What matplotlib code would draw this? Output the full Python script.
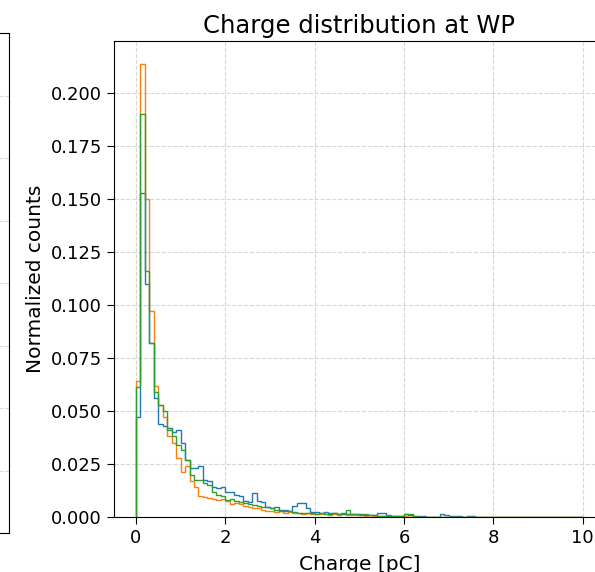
import numpy as np
import matplotlib
matplotlib.use("Agg")
import matplotlib.pyplot as plt

# normalized counts per 0.1 pC bin, 0 to 10 pC
edges = np.linspace(0, 10, 101)
centers = 0.5 * (edges[:-1] + edges[1:])

counts_blue = [
    0.047, 0.153, 0.110, 0.082, 0.056, 0.044, 0.043, 0.042, 0.040, 0.041,
    0.035, 0.027, 0.023, 0.023, 0.024, 0.0175, 0.017, 0.014, 0.0135, 0.014,
    0.012, 0.012, 0.0105, 0.010, 0.0075, 0.007, 0.0113, 0.0075, 0.007, 0.0045,
    0.004, 0.0045, 0.0035, 0.0035, 0.003, 0.005, 0.0066, 0.0066, 0.004, 0.0025,
    0.0025, 0.002, 0.0022, 0.0018, 0.002, 0.0015, 0.0018, 0.0015, 0.0012, 0.0015,
    0.0012, 0.001, 0.0008, 0.001, 0.002, 0.002, 0.0008, 0.0006, 0.0006, 0.0005,
    0.0012, 0.0008, 0.0004, 0.0003, 0.0003, 0.0002, 0.0002, 0.0002, 0.0014, 0.001,
    0.0003, 0.0003, 0.0005, 0.0002, 0.0005, 0.0003, 0.0001, 0.0001, 0.0, 0.0001,
    0.0, 0.0001, 0.0, 0.0, 0.0001, 0.0, 0.0, 0.0, 0.0001, 0.0,
    0.0, 0.0, 0.0, 0.0, 0.0, 0.0, 0.0, 0.0001, 0.0, 0.0,
]
counts_orange = [
    0.064, 0.214, 0.150, 0.097, 0.062, 0.053, 0.047, 0.038, 0.035, 0.028,
    0.021, 0.024, 0.017, 0.014, 0.010, 0.0095, 0.009, 0.0085, 0.008, 0.0085,
    0.0075, 0.006, 0.0065, 0.006, 0.005, 0.0045, 0.004, 0.004, 0.0035, 0.003,
    0.003, 0.0025, 0.003, 0.002, 0.0025, 0.002, 0.002, 0.0015, 0.0018, 0.0012,
    0.0015, 0.0012, 0.0015, 0.001, 0.0012, 0.001, 0.0015, 0.0008, 0.001, 0.0008,
    0.0008, 0.0006, 0.0007, 0.0005, 0.0005, 0.0004, 0.0005, 0.0003, 0.0003, 0.0004,
    0.0003, 0.0002, 0.0, 0.0002, 0.0, 0.0, 0.0001, 0.0, 0.0, 0.0,
    0.0, 0.0, 0.0, 0.0, 0.0, 0.0, 0.0, 0.0, 0.0, 0.0,
    0.0, 0.0, 0.0, 0.0, 0.0, 0.0, 0.0, 0.0, 0.0, 0.0,
    0.0, 0.0, 0.0, 0.0, 0.0, 0.0, 0.0, 0.0, 0.0, 0.0,
]
counts_green = [
    0.0615, 0.190, 0.116, 0.082, 0.059, 0.053, 0.050, 0.041, 0.038, 0.034,
    0.0316, 0.027, 0.020, 0.0175, 0.0175, 0.016, 0.015, 0.012, 0.0105, 0.010,
    0.008, 0.0085, 0.0075, 0.007, 0.0065, 0.006, 0.0055, 0.005, 0.0045, 0.0045,
    0.004, 0.0035, 0.003, 0.003, 0.0028, 0.0025, 0.002, 0.002, 0.002, 0.0018,
    0.0015, 0.0018, 0.0015, 0.0012, 0.0018, 0.0012, 0.0015, 0.0033, 0.0015, 0.0012,
    0.001, 0.0012, 0.0008, 0.0008, 0.0006, 0.0005, 0.0006, 0.0004, 0.0005, 0.0004,
    0.0016, 0.0012, 0.0003, 0.0001, 0.0001, 0.0, 0.0001, 0.0, 0.0, 0.0,
    0.0, 0.0, 0.0, 0.0, 0.0, 0.0, 0.0, 0.0, 0.0, 0.0,
    0.0, 0.0, 0.0, 0.0, 0.0, 0.0, 0.0, 0.0, 0.0, 0.0,
    0.0, 0.0, 0.0, 0.0, 0.0, 0.0, 0.0, 0.0, 0.0, 0.0,
]

fig = plt.figure(figsize=(5.95, 5.72), dpi=100)

# neighbouring panel, only its right edge falls inside the figure
ax_left = fig.add_axes([-0.4, 0.068, 0.4155, 0.874])
ax_left.set_xlim(0, 1)
ax_left.set_ylim(0, 8)
ax_left.set_yticks(np.arange(1, 8))
ax_left.grid(True, linestyle="--", alpha=0.5)
ax_left.tick_params(labelleft=False, labelbottom=False, bottom=False)

ax = fig.add_axes([0.1909, 0.0962, 0.8259, 0.8322])
for counts in (counts_blue, counts_orange, counts_green):
    ax.hist(centers, bins=edges, weights=counts, histtype="step", linewidth=1.0)

ax.set_title("Charge distribution at WP", fontsize=17.5)
ax.set_xlabel("Charge [pC]", fontsize=14.5, labelpad=6)
ax.set_ylabel("Normalized counts", fontsize=14.5)
ax.tick_params(labelsize=13, length=5)
ax.grid(True, linestyle="--", alpha=0.5)
ax.spines["right"].set_visible(False)

fig.savefig("out.png", dpi=100)
